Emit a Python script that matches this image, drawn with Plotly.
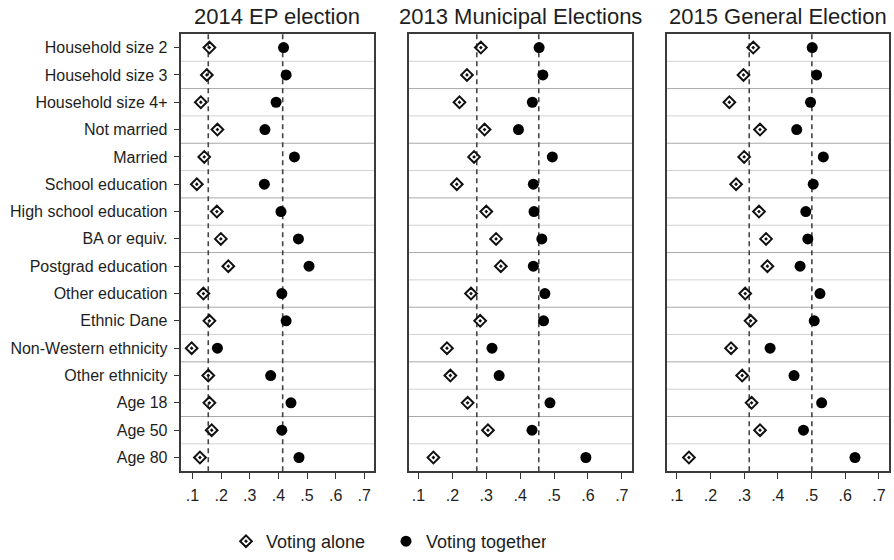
import plotly.graph_objects as go

# Predicted turnout by characteristic, household voting alone vs together
categories = [
    "Household size 2", "Household size 3", "Household size 4+",
    "Not married", "Married", "School education", "High school education",
    "BA or equiv.", "Postgrad education", "Other education", "Ethnic Dane",
    "Non-Western ethnicity", "Other ethnicity", "Age 18", "Age 50", "Age 80",
]

panel_titles = ["2014 EP election", "2013 Municipal Elections", "2015 General Election"]

alone_ep = [0.159, 0.150, 0.129, 0.187, 0.141, 0.115, 0.185, 0.199,
            0.225, 0.138, 0.159, 0.097, 0.155, 0.159, 0.167, 0.126]
together_ep = [0.418, 0.427, 0.392, 0.353, 0.456, 0.351, 0.409, 0.470,
               0.507, 0.412, 0.427, 0.187, 0.373, 0.444, 0.412, 0.472]

alone_mun = [0.284, 0.243, 0.221, 0.295, 0.264, 0.213, 0.300, 0.329,
             0.343, 0.255, 0.282, 0.184, 0.194, 0.245, 0.305, 0.144]
together_mun = [0.456, 0.467, 0.436, 0.395, 0.495, 0.439, 0.441, 0.464,
                0.439, 0.473, 0.469, 0.317, 0.338, 0.488, 0.435, 0.594]

alone_gen = [0.327, 0.298, 0.256, 0.347, 0.300, 0.276, 0.344, 0.365,
             0.369, 0.303, 0.319, 0.261, 0.294, 0.322, 0.347, 0.136]
together_gen = [0.502, 0.515, 0.497, 0.456, 0.535, 0.505, 0.483, 0.489,
                0.466, 0.525, 0.508, 0.377, 0.448, 0.530, 0.476, 0.629]

# Overall averages shown as dashed reference lines
alone_mean = [0.155, 0.272, 0.315]
together_mean = [0.415, 0.455, 0.501]

x_ticks = [0.1, 0.2, 0.3, 0.4, 0.5, 0.6, 0.7]
x_tick_text = [".1", ".2", ".3", ".4", ".5", ".6", ".7"]

W, H = 894, 560
FONT = "Liberation Sans, Arial, Helvetica, sans-serif"
INK = "#1e1e1e"

alone = [alone_ep, alone_mun, alone_gen]
together = [together_ep, together_mun, together_gen]

# panel placement in pixels (left, right) and shared top/bottom
panel_px = [(180.5, 374.0), (408.5, 632.3), (666.7, 889.0)]
x_ranges = [[0.058, 0.734], [0.0705, 0.731], [0.070, 0.730]]
top_px, bottom_px = 34.0, 472.0

rows = list(range(len(categories)))

fig = go.Figure()
for p in range(3):
    sfx = "" if p == 0 else str(p + 1)
    fig.add_trace(go.Scatter(
        x=alone[p], y=rows, mode="markers", name="Voting alone",
        xaxis="x" + sfx, yaxis="y" + sfx, showlegend=(p == 0),
        marker=dict(symbol="diamond-open-dot", size=9, color="#111",
                    line=dict(width=2, color="#111")),
    ))
    fig.add_trace(go.Scatter(
        x=together[p], y=rows, mode="markers", name="Voting together",
        xaxis="x" + sfx, yaxis="y" + sfx, showlegend=(p == 0),
        marker=dict(symbol="circle", size=11, color="#000"),
    ))

shapes = []
annotations = []
layout = {}
for p in range(3):
    sfx = "" if p == 0 else str(p + 1)
    x0, x1 = panel_px[p]
    layout["xaxis" + sfx] = dict(
        domain=[x0 / W, x1 / W], range=x_ranges[p], anchor="y" + sfx,
        tickvals=x_ticks, ticktext=x_tick_text, ticks="outside", ticklen=6,
        tickwidth=1.3, tickcolor="#333", showgrid=False, zeroline=False,
        showline=True, mirror=True, linecolor="#3a3a3a", linewidth=1.6,
        tickfont=dict(size=16, color=INK, family=FONT), ticklabelstandoff=3,
    )
    layout["yaxis" + sfx] = dict(
        domain=[1 - bottom_px / H, 1 - top_px / H], range=[len(rows) - 0.5, -0.5],
        anchor="x" + sfx, tickvals=rows, ticktext=categories,
        showticklabels=(p == 0), ticks="outside" if p == 0 else "", ticklen=5,
        tickwidth=1.3, tickcolor="#333", showgrid=False, zeroline=False,
        showline=True, mirror=True, linecolor="#3a3a3a", linewidth=1.6,
        tickfont=dict(size=16, color=INK, family=FONT), ticklabelstandoff=3,
    )
    # row separators
    for i in rows[:-1]:
        shapes.append(dict(
            type="line", xref="x" + sfx + " domain", yref="y" + sfx,
            x0=0, x1=1, y0=i + 0.5, y1=i + 0.5, layer="below",
            line=dict(color="#a9a9a9" if i % 2 else "#d2d2d2", width=1),
        ))
    # average reference lines
    for v in (alone_mean[p], together_mean[p]):
        shapes.append(dict(
            type="line", xref="x" + sfx, yref="y" + sfx + " domain",
            x0=v, x1=v, y0=0, y1=1, layer="below",
            line=dict(color="#444", width=1.6, dash="5px,4px"),
        ))
    annotations.append(dict(
        text=panel_titles[p], xref="paper", yref="paper",
        x=(x0 + x1) / 2 / W, y=1 - 17 / H, xanchor="center", yanchor="middle",
        showarrow=False, font=dict(size=22, color=INK, family=FONT),
    ))

fig.update_layout(
    width=W, height=H, margin=dict(l=0, r=0, t=0, b=0),
    paper_bgcolor="white", plot_bgcolor="white",
    font=dict(family=FONT, color=INK),
    shapes=shapes, annotations=annotations,
    legend=dict(orientation="h", x=226 / W, xanchor="left",
                y=18 / H, yanchor="middle", font=dict(size=18, color=INK),
                itemwidth=30, entrywidth=115, entrywidthmode="pixels",
                tracegroupgap=0, bgcolor="rgba(0,0,0,0)"),
    **layout,
)

fig.write_html("out.html")
